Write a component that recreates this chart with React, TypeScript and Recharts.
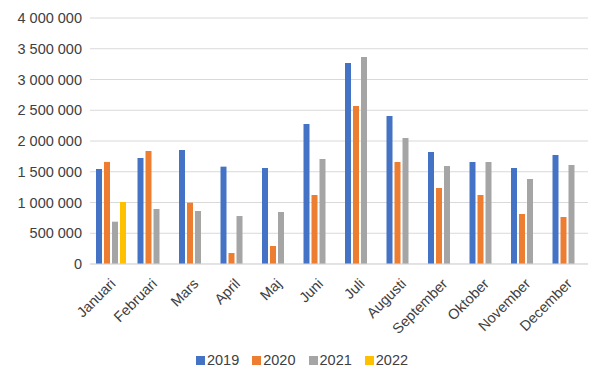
import { BarChart, Bar, XAxis, YAxis, CartesianGrid, Legend } from 'recharts';

const months = ['Januari', 'Februari', 'Mars', 'April', 'Maj', 'Juni', 'Juli', 'Augusti', 'September', 'Oktober', 'November', 'December'];
const y2019 = [1545000, 1724000, 1854000, 1583000, 1561000, 2276000, 3268000, 2407000, 1821000, 1659000, 1561000, 1772000];
const y2020 = [1660000, 1837000, 997000, 179000, 293000, 1122000, 2569000, 1659000, 1236000, 1122000, 813000, 764000];
const y2021 = [688000, 894000, 862000, 780000, 846000, 1707000, 3366000, 2049000, 1593000, 1659000, 1382000, 1610000];
const y2022 = [1008000, null, null, null, null, null, null, null, null, null, null, null];
const yTicks = [0, 500000, 1000000, 1500000, 2000000, 2500000, 3000000, 3500000, 4000000];

const series = [
  { key: '2019', color: '#4472C4' },
  { key: '2020', color: '#ED7D31' },
  { key: '2021', color: '#A5A5A5' },
  { key: '2022', color: '#FFC000' },
];

const data = months.map((m, i) => ({
  month: m,
  '2019': y2019[i],
  '2020': y2020[i],
  '2021': y2021[i],
  '2022': y2022[i],
}));

const font = 'Arial, "Liberation Sans", sans-serif';
const textColor = '#404040';

const fmt = (v: number) => String(v).replace(/\B(?=(\d{3})+(?!\d))/g, ' ');

function MonthTick(props: any) {
  const { x, y, payload } = props;
  const tx = x + 3;
  const ty = y + 10;
  return (
    <text
      x={tx}
      y={ty}
      transform={`rotate(-45, ${tx}, ${ty})`}
      textAnchor="end"
      dominantBaseline="middle"
      fontSize={14.5}
      fontFamily={font}
      fill={textColor}
    >
      {payload.value}
    </text>
  );
}

function LegendContent() {
  return (
    <div style={{ display: 'flex', justifyContent: 'center', gap: 13, paddingLeft: 6, fontFamily: font, fontSize: 14.5, color: textColor }}>
      {series.map((s) => (
        <div key={s.key} style={{ display: 'flex', alignItems: 'center' }}>
          <span style={{ display: 'inline-block', width: 9, height: 9, background: s.color, marginRight: 2 }} />
          <span>{s.key}</span>
        </div>
      ))}
    </div>
  );
}

export default function App() {
  return (
    <div style={{ position: 'absolute', left: 0, top: 0, background: '#fff' }}>
      <BarChart
        width={607}
        height={385}
        data={data}
        barSize={6}
        barGap={2}
        margin={{ top: 18, right: 19, left: 10, bottom: 13 }}
      >
        <CartesianGrid vertical={false} stroke="#d9d9d9" />
        <XAxis
          dataKey="month"
          tick={<MonthTick />}
          tickLine={false}
          axisLine={{ stroke: '#d9d9d9' }}
          interval={0}
          height={88}
        />
        <YAxis
          domain={[0, 4000000]}
          ticks={yTicks}
          tickFormatter={fmt}
          tick={{ fill: textColor, fontSize: 14.5, fontFamily: font }}
          tickLine={false}
          axisLine={false}
          width={80}
        />
        <Legend verticalAlign="bottom" height={20} content={<LegendContent />} />
        {series.map((s) => (
          <Bar key={s.key} dataKey={s.key} fill={s.color} isAnimationActive={false} />
        ))}
      </BarChart>
    </div>
  );
}
